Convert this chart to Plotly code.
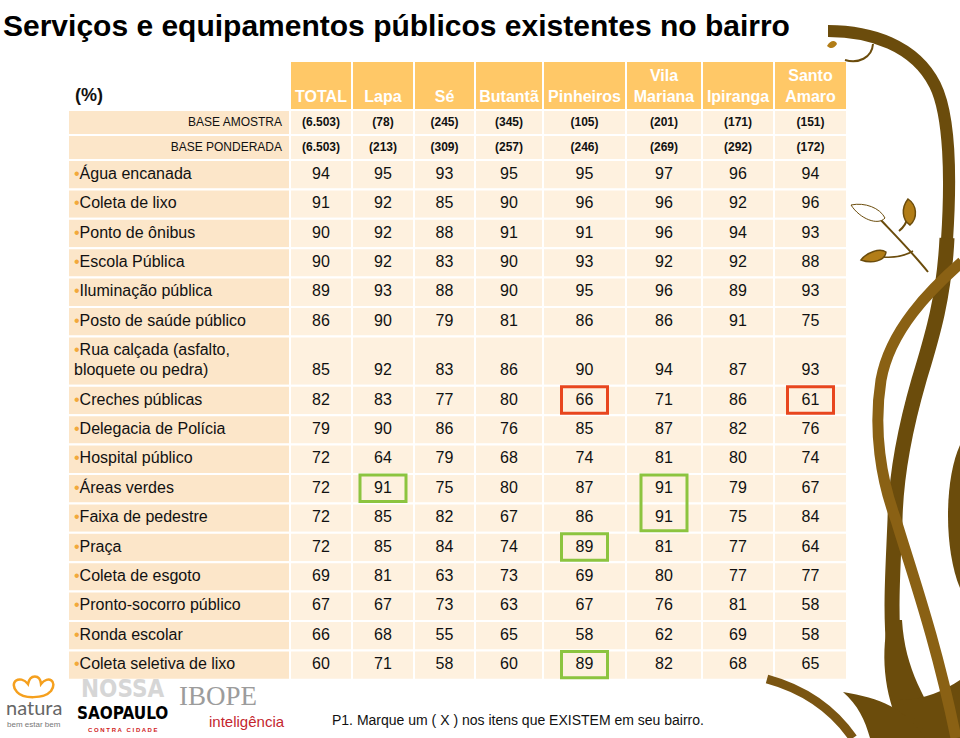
import plotly.graph_objects as go

# ---------------- data ----------------
title = "Serviços e equipamentos públicos existentes no bairro"
unit_label = "(%)"
columns = ["TOTAL", "Lapa", "Sé", "Butantã", "Pinheiros", "Vila<br>Mariana", "Ipiranga", "Santo<br>Amaro"]
base_labels = ["BASE AMOSTRA", "BASE PONDERADA"]
base_amostra = ["(6.503)", "(78)", "(245)", "(345)", "(105)", "(201)", "(171)", "(151)"]
base_ponderada = ["(6.503)", "(213)", "(309)", "(257)", "(246)", "(269)", "(292)", "(172)"]

items = [
    "Água encanada", "Coleta de lixo", "Ponto de ônibus", "Escola Pública",
    "Iluminação pública", "Posto de saúde público",
    "Rua calçada (asfalto,<br>bloquete ou pedra)",
    "Creches públicas", "Delegacia de Polícia", "Hospital público", "Áreas verdes",
    "Faixa de pedestre", "Praça", "Coleta de esgoto", "Pronto-socorro público",
    "Ronda escolar", "Coleta seletiva de lixo",
]
total        = [94, 91, 90, 90, 89, 86, 85, 82, 79, 72, 72, 72, 72, 69, 67, 66, 60]
lapa         = [95, 92, 92, 92, 93, 90, 92, 83, 90, 64, 91, 85, 85, 81, 67, 68, 71]
se           = [93, 85, 88, 83, 88, 79, 83, 77, 86, 79, 75, 82, 84, 63, 73, 55, 58]
butanta      = [95, 90, 91, 90, 90, 81, 86, 80, 76, 68, 80, 67, 74, 73, 63, 65, 60]
pinheiros    = [95, 96, 91, 93, 95, 86, 90, 66, 85, 74, 87, 86, 89, 69, 67, 58, 89]
vila_mariana = [97, 96, 96, 92, 96, 86, 94, 71, 87, 81, 91, 91, 81, 80, 76, 62, 82]
ipiranga     = [96, 92, 94, 92, 89, 91, 87, 86, 82, 80, 79, 75, 77, 77, 81, 69, 68]
santo_amaro  = [94, 96, 93, 88, 93, 75, 93, 61, 76, 74, 67, 84, 64, 77, 58, 58, 65]
series = [total, lapa, se, butanta, pinheiros, vila_mariana, ipiranga, santo_amaro]

# highlighted cells: first row, last row, column, kind
hl_first = ["Creches públicas", "Creches públicas", "Áreas verdes", "Áreas verdes", "Praça", "Coleta seletiva de lixo"]
hl_last  = ["Creches públicas", "Creches públicas", "Áreas verdes", "Faixa de pedestre", "Praça", "Coleta seletiva de lixo"]
hl_col   = ["Pinheiros", "Santo<br>Amaro", "Lapa", "Vila<br>Mariana", "Pinheiros", "Pinheiros"]
hl_kind  = ["low", "low", "high", "high", "high", "high"]

footnote = "P1. Marque um ( X ) nos itens que EXISTEM em seu bairro."

# ---------------- layout / style ----------------
W, H = 960, 738
FONT = "Liberation Sans, Arial, sans-serif"
HEAD_BG = "#FFC867"
LABEL_BG = "#FCE6C9"
CELL_BG = "#FEF1DF"
BULLET = "#F2A93B"
HL_COLORS = {"low": "#E8461E", "high": "#8CC43F"}
DARK = "#6B4C0C"
GOLD = "#8A6114"
LEAF = "#B27D17"

col_edges = [68, 290, 352, 414, 475, 543, 626, 702, 774, 847]
col_centers = [(col_edges[i + 1] + col_edges[i + 2]) / 2 for i in range(len(columns))]
header_top, header_bot = 61, 110
base_h = 25
row_h = 29.4
extra_line = 20

shapes = []
def rect(x0, y0, x1, y1, fill, line="white", lw=2, layer="below"):
    shapes.append(dict(type="rect", xref="x", yref="y", x0=x0, y0=y0, x1=x1, y1=y1,
                       fillcolor=fill, line=dict(color=line, width=lw), layer=layer))

# header cells
for i in range(len(columns)):
    rect(col_edges[i + 1], header_top, col_edges[i + 2], header_bot, HEAD_BG)

# base rows
base_tops = [header_bot + k * base_h for k in range(len(base_labels))]
for t in base_tops:
    rect(col_edges[0], t, col_edges[1], t + base_h, LABEL_BG)
    for i in range(len(columns)):
        rect(col_edges[i + 1], t, col_edges[i + 2], t + base_h, CELL_BG)

# item rows
row_tops, row_bots = [], []
y = base_tops[-1] + base_h
for it in items:
    h = row_h + extra_line * it.count("<br>")
    row_tops.append(y)
    row_bots.append(y + h)
    rect(col_edges[0], y, col_edges[1], y + h, LABEL_BG)
    for i in range(len(columns)):
        rect(col_edges[i + 1], y, col_edges[i + 2], y + h, CELL_BG)
    y += h

# highlight boxes
for a, b, c, k in zip(hl_first, hl_last, hl_col, hl_kind):
    ci = columns.index(c)
    cx = col_centers[ci]
    shapes.append(dict(type="rect", xref="x", yref="y", x0=cx - 23, x1=cx + 23,
                       y0=row_tops[items.index(a)] + 1, y1=row_bots[items.index(b)] - 2,
                       line=dict(color=HL_COLORS[k], width=3), fillcolor="rgba(0,0,0,0)", layer="above"))

# decorative vine (right side)
def path(d, fill=None, color=DARK, width=0):
    s = dict(type="path", xref="x", yref="y", path=d, layer="above",
             line=dict(color=color, width=width))
    s["fillcolor"] = fill if fill else "rgba(0,0,0,0)"
    shapes.append(s)

path("M 828,31 C 870,31 915,45 935,85 C 950,115 951,180 947,240", color=DARK, width=12)
path("M 947,238 C 944,300 931,340 919,380 C 906,425 896,470 895,520 C 893,570 890,610 894,650", color=DARK, width=15)
path("M 888,620 C 880,660 885,700 905,738 L 948,738 C 925,700 905,670 902,620 Z", fill=DARK)
path("M 843,692 C 880,698 905,708 925,738 L 870,738 C 865,720 858,705 843,692 Z", fill=DARK)
path("M 900,700 C 925,700 945,690 960,680 L 960,738 L 930,738 Z", fill=DARK)
path("M 960,445 C 944,480 944,550 960,588 Z", fill=DARK)
path("M 962,262 C 930,290 890,330 881,380 C 873,430 881,480 896,520 C 911,570 936,640 956,738", color=GOLD, width=11)
path("M 767,679 C 800,688 830,705 853,738", color="#7A5512", width=9)
# twigs and leaves
path("M 878,217 C 895,235 912,252 928,272", color=DARK, width=2)
path("M 899,231 C 904,227 907,222 908,216", color=DARK, width=2)
path("M 908,199 C 917,205 918,218 910,225 C 902,220 901,208 908,199 Z", fill=LEAF, color=DARK, width=1.5)
path("M 851,205 C 865,202 880,208 885,218 C 878,226 860,219 851,205 Z", fill="white", color=DARK, width=1)
path("M 883,257 C 896,258 905,256 913,251", color=DARK, width=1.5)
path("M 861,260 C 867,252 880,248 886,252 C 885,261 872,264 861,260 Z", fill=LEAF, color=DARK, width=1.5)
path("M 873,44 C 872,58 858,64 845,60", color=DARK, width=2)
path("M 827,46 C 830,41 835,39 837,44 C 834,49 830,49 827,46 Z", fill=LEAF)
# natura flower outline
path("M 17,692 C 8,682 20,674 28,684 C 30,674 40,674 41,684 C 48,675 58,681 51,691 C 44,699 23,699 17,692 Z",
     color="#F5A01E", width=2.5)

fig = go.Figure()

def text_trace(xs, ys, texts, pos, size, color="#111", weight="normal", family=FONT):
    fig.add_trace(go.Scatter(x=xs, y=ys, text=texts, mode="text", textposition=pos,
                             textfont=dict(size=size, color=color, family=family, weight=weight),
                             hoverinfo="skip", showlegend=False, cliponaxis=False))

# header
text_trace(col_centers, [header_bot - 4] * len(columns), columns, "top center", 16, "white", "bold")
text_trace([75], [96], [unit_label], "middle right", 18, "#111", "bold")

# base rows
text_trace([282] * 2, [t + base_h / 2 for t in base_tops], base_labels, "middle left", 12)
for t, vals in zip(base_tops, [base_amostra, base_ponderada]):
    text_trace(col_centers, [t + base_h / 2] * len(vals), vals, "middle center", 12, "#111", "bold")

# item labels and values
label_texts = [f"<span style='color:{BULLET}'>•</span>{it}" for it in items]
text_trace([74] * len(items), [(a + b) / 2 for a, b in zip(row_tops, row_bots)], label_texts, "middle right", 16)
val_y = [b - row_h / 2 for b in row_bots]
for ci, vals in enumerate(series):
    text_trace([col_centers[ci]] * len(vals), val_y, [str(v) for v in vals], "middle center", 16)

def ann(x, y, text, size, color, family=FONT, xanchor="center"):
    return dict(x=x, y=y, xref="x", yref="y", text=text, showarrow=False,
                xanchor=xanchor, yanchor="middle", font=dict(size=size, color=color, family=family))

NARROW = "Liberation Sans Narrow, DejaVu Sans Condensed, sans-serif"
annotations = [
    ann(1, 25, f"<b>{title}</b>", 30, "#000", xanchor="left"),
    ann(330, 720, footnote, 14, "#111", xanchor="left"),
    ann(34, 707, "natura", 20, "#666", "Lato, Liberation Sans, sans-serif"),
    ann(34, 724, "bem estar bem", 8, "#777"),
    ann(122, 689, "<b>NOSSA</b>", 24, "#D6D6D6", NARROW),
    ann(122, 713, "<b>SAOPAULO</b>", 17, "#000", NARROW),
    ann(122, 730, "<b>C O N T R A   C I D A D E</b>", 6, "#D01C1C"),
    ann(218, 696, "IBOPE", 27, "#9C9C9C", "Liberation Serif, serif"),
    ann(247, 721, "inteligência", 15, "#C4262E"),
]

fig.update_layout(
    width=W, height=H, margin=dict(l=0, r=0, t=0, b=0),
    paper_bgcolor="white", plot_bgcolor="white",
    xaxis=dict(range=[0, W], visible=False, fixedrange=True),
    yaxis=dict(range=[H, 0], visible=False, fixedrange=True),
    shapes=shapes, annotations=annotations, showlegend=False,
)
fig.write_html("out.html", config={"displayModeBar": False},
               post_script="document.body.style.margin='0';document.body.style.overflow='hidden';")
